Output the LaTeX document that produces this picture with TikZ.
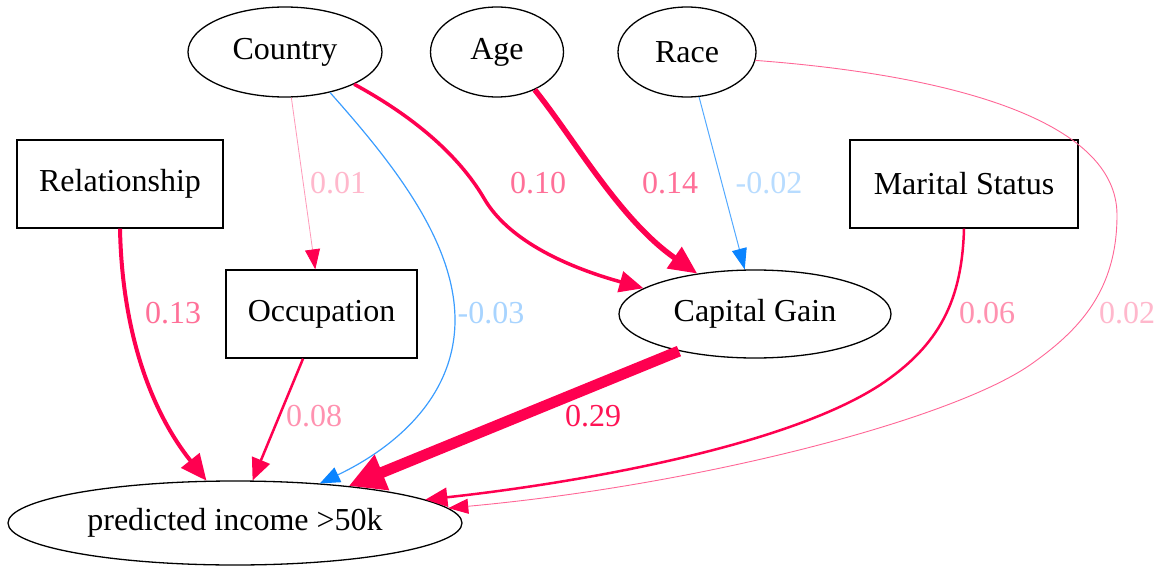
\documentclass[tikz,border=0pt]{standalone}
\usepackage{fontspec}
\setmainfont{Liberation Serif}
\usetikzlibrary{arrows.meta,shapes.geometric}

% edge colours
\definecolor{edgered}{RGB}{255,0,80}
\definecolor{edgeblue}{RGB}{10,132,255}
% weight label colours
\definecolor{lblfaint}{RGB}{255,184,204}
\definecolor{lbllight}{RGB}{255,146,176}
\definecolor{lblmid}{RGB}{255,112,152}
\definecolor{lblstrong}{RGB}{255,20,85}
\definecolor{lblbluefaint}{RGB}{184,220,255}
\definecolor{lblblue}{RGB}{168,212,255}

\begin{document}
\begin{tikzpicture}[x=1pt,y=-1pt,
  every node/.style={font=\fontsize{32}{38}\selectfont},
  ovalnode/.style={ellipse,draw=black,line width=1.3pt,inner sep=0pt},
  boxnode/.style={rectangle,draw=black,line width=1.3pt,inner sep=0pt},
  wlabel/.style={inner sep=0pt},
  link/.style={line cap=butt,line join=round},
  redlink/.style={link,draw=edgered,fill=none},
  bluelink/.style={link,draw=edgeblue,fill=none},
]
\useasboundingbox (0,0) rectangle (1162,567);

% ---- nodes ----
\node[ovalnode,minimum width=194pt,minimum height=90pt] (country) at (285,52) {Country};
\node[ovalnode,minimum width=133pt,minimum height=90pt] (age) at (497,52) {Age};
\node[ovalnode,minimum width=138pt,minimum height=90pt] (race) at (687,52) {Race};
\node[boxnode,minimum width=206pt,minimum height=88pt] (relationship) at (120,184) {Relationship};
\node[boxnode,minimum width=228pt,minimum height=88pt] (marital) at (964,184) {Marital Status};
\node[boxnode,minimum width=191pt,minimum height=88pt] (occupation) at (321.5,314) {Occupation};
\node[ovalnode,minimum width=272pt,minimum height=88pt] (capgain) at (755,314) {Capital Gain};
\node[ovalnode,minimum width=454pt,minimum height=84pt] (income) at (235,523) {predicted income >50k};

% ---- edges ----
% Country -> Occupation (0.01)
\draw[link,draw=edgered!40,line width=0.8pt,-{Triangle[length=20pt,width=15pt,color=edgered]}]
  (country) -- (occupation);
% Country -> predicted income (-0.03)
\draw[link,draw=edgeblue!80,line width=1.2pt,-{Triangle[length=20pt,width=16pt,color=edgeblue]}]
  (country.-42) .. controls (390,160) and (455,240) .. (455,320)
  .. controls (455,400) and (390,450) .. (income.25);
% Country -> Capital Gain (0.10)
\draw[redlink,line width=3.5pt,-{Triangle[length=24pt,width=21pt]}]
  (country.-25) .. controls (420,120) and (462,160) .. (485,200)
  .. controls (508,238) and (560,265) .. (capgain.167);
% Age -> Capital Gain (0.14)
\draw[redlink,line width=5.5pt,-{Triangle[length=28pt,width=25pt]}]
  (age.-45) .. controls (575,140) and (620,220) .. (capgain.145);
% Race -> Capital Gain (-0.02)
\draw[link,draw=edgeblue!70,line width=1pt,-{Triangle[length=21pt,width=15pt,color=edgeblue]}]
  (race.-75) -- (capgain.103);
% Race -> predicted income (0.02)
\draw[link,draw=edgered!60,line width=0.9pt,-{Triangle[length=20pt,width=15pt,color=edgered]}]
  (race.-7) .. controls (950,75) and (1117,120) .. (1117,215)
  .. controls (1117,290) and (1080,330) .. (1030,365)
  .. controls (950,420) and (700,485) .. (income.4);
% Relationship -> predicted income (0.13)
\draw[redlink,line width=4pt,-{Triangle[length=26pt,width=23pt]}]
  (relationship.south) .. controls (122,330) and (150,410) .. (income.124);
% Occupation -> predicted income (0.08)
\draw[redlink,line width=2.5pt,-{Triangle[length=22pt,width=19pt]}]
  (occupation) -- (income);
% Capital Gain -> predicted income (0.29)
\draw[redlink,line width=11pt,-{Triangle[length=36pt,width=36pt]}]
  (capgain.-154) -- (income.18.5);
% Marital Status -> predicted income (0.06)
\draw[redlink,line width=2.5pt,-{Triangle[length=22pt,width=19pt]}]
  (marital.south) .. controls (962,300) and (940,345) .. (880,385)
  .. controls (780,450) and (560,485) .. (income.7.4);

% ---- weights ----
\node[wlabel,text=lblfaint] (w1) at (338,183) {0.01};
\node[wlabel,text=lblmid] (w2) at (538,183) {0.10};
\node[wlabel,text=lblmid] (w3) at (670,183) {0.14};
\node[wlabel,text=lblbluefaint] (w4) at (769,183) {-0.02};
\node[wlabel,text=lblmid] (w5) at (173,313) {0.13};
\node[wlabel,text=lblblue] (w6) at (491,313) {-0.03};
\node[wlabel,text=lbllight] (w7) at (987,313) {0.06};
\node[wlabel,text=lblfaint] (w8) at (1127,313) {0.02};
\node[wlabel,text=lbllight] (w9) at (314,416) {0.08};
\node[wlabel,text=lblstrong] (w10) at (593,416) {0.29};
\end{tikzpicture}
\end{document}
